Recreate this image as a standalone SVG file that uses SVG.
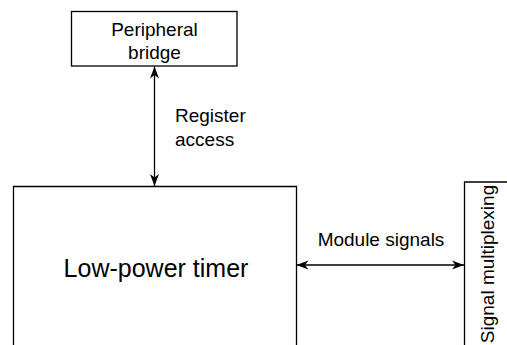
<svg xmlns="http://www.w3.org/2000/svg" width="507" height="345" viewBox="0 0 507 345">
<style>
.box{fill:#fff;stroke:#000;stroke-width:1.3}
.ln{fill:none;stroke:#000;stroke-width:1.3}
.t{font-family:"Liberation Sans",Arial,sans-serif;fill:#000}
.s{font-size:19px}
.b{font-size:25px}
</style>
<defs>
<marker id="ah" viewBox="0 0 12 10" refX="12" refY="5" markerWidth="12" markerHeight="10" markerUnits="userSpaceOnUse" orient="auto-start-reverse">
<path d="M0,0.5 L12,5 L0,9.5 L3.5,5 Z" fill="#000"/>
</marker>
</defs>
<g id="peripheral-bridge">
<rect class="box" x="71.5" y="11.5" width="165.5" height="54.5"/>
<text class="t s" x="154.5" y="35.5" text-anchor="middle">Peripheral</text>
<text class="t s" x="154.5" y="59" text-anchor="middle">bridge</text>
</g>
<g id="low-power-timer">
<path class="ln" d="M13.5,346 V186.5 H296.5 V346"/>
<text class="t b" x="156" y="276.5" text-anchor="middle">Low-power timer</text>
</g>
<g id="signal-multiplexing">
<path class="ln" d="M464.5,346 V182 H508"/>
<text class="t s" transform="translate(494,264) rotate(-90)" text-anchor="middle">Signal multiplexing</text>
</g>
<g id="connectors">
<line class="ln" x1="154.5" y1="66.5" x2="154.5" y2="186" marker-start="url(#ah)" marker-end="url(#ah)"/>
<text class="t s" x="175" y="121.5">Register</text>
<text class="t s" x="175" y="146">access</text>
<line class="ln" x1="296.5" y1="265" x2="464" y2="265" marker-start="url(#ah)" marker-end="url(#ah)"/>
<text class="t s" x="381" y="246" text-anchor="middle">Module signals</text>
</g>
</svg>
